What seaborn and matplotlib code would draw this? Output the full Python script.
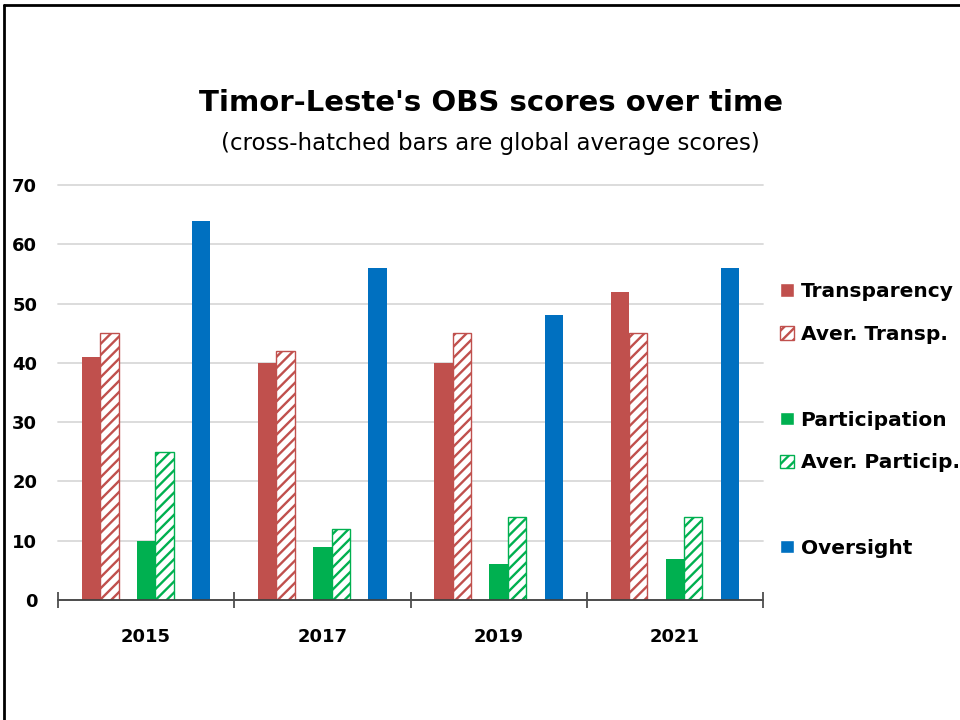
import pandas as pd
import numpy as np
import matplotlib
matplotlib.use("Agg")
import matplotlib.pyplot as plt
import seaborn as sns
from matplotlib.patches import Patch
from matplotlib.lines import Line2D

# Data
years = ["2015", "2017", "2019", "2021"]
transparency = [41, 40, 40, 52]
aver_transp = [45, 42, 45, 45]
participation = [10, 9, 6, 7]
aver_particip = [25, 12, 14, 14]
oversight = [64, 56, 48, 56]

series_names = ["Transparency", "Aver. Transp.", " ", "Participation",
                "Aver. Particip.", "  ", "Oversight"]
series_values = [transparency, aver_transp, None, participation,
                 aver_particip, None, oversight]

red = "#C0504D"
green = "#00B050"
blue = "#0070C0"
palette = {"Transparency": red, "Aver. Transp.": red, " ": "white",
           "Participation": green, "Aver. Particip.": green, "  ": "white",
           "Oversight": blue}
hatched = {"Aver. Transp.", "Aver. Particip."}

# Long table for seaborn (blank series keep the gaps between pairs)
rows = []
for name, vals in zip(series_names, series_values):
    if vals is None:
        continue
    for y, v in zip(years, vals):
        rows.append({"Year": y, "Series": name, "Score": v})
df = pd.DataFrame(rows)

sns.set_theme(style="white")
plt.rcParams["font.family"] = ["DejaVu Sans"]
plt.rcParams["text.color"] = "black"
plt.rcParams["xtick.color"] = "black"
plt.rcParams["ytick.color"] = "black"
plt.rcParams["hatch.linewidth"] = 1.7

fig = plt.figure(figsize=(9.6, 7.2), dpi=100)
ax = fig.add_axes([58 / 960, 120 / 720, 705 / 960, 415 / 720])

bar_width = 0.73
sns.barplot(data=df, x="Year", y="Score", hue="Series", order=years,
            hue_order=series_names, palette=palette, width=bar_width,
            saturation=1, legend=False, ax=ax, zorder=3)

# Find each bar's series from its slot inside the group, then style it
slot = bar_width / len(series_names)
for bar in ax.patches:
    cx = bar.get_x() + bar.get_width() / 2
    idx = int(round((cx - round(cx) + bar_width / 2) / slot - 0.5))
    name = series_names[idx]
    c = palette[name]
    if name in hatched:
        bar.set_facecolor("white")
        bar.set_edgecolor(c)
        bar.set_hatch("///")
        bar.set_linewidth(1.0)
    else:
        bar.set_facecolor(c)
        bar.set_linewidth(0)

ax.set_xlim(-0.5, 3.5)
ax.set_ylim(0, 70)
ax.set_yticks(np.arange(0, 71, 10))
ax.yaxis.grid(True, color="#D9D9D9", linewidth=1.3, zorder=0)
for gl in ax.get_ygridlines():
    gl.set_clip_on(False)
ax.set_axisbelow(True)
ax.set_xlabel("")
ax.set_ylabel("")

for side in ["left", "right", "top"]:
    ax.spines[side].set_visible(False)
ax.spines["bottom"].set_color("#404040")
ax.spines["bottom"].set_linewidth(1.3)
ax.spines["bottom"].set_zorder(4)

ax.set_xticks(np.arange(len(years)))
ax.set_xticklabels(years, fontsize=13, fontweight="bold")
ax.tick_params(axis="x", which="major", length=0, pad=20)
ax.set_xticks(np.arange(-0.5, len(years), 1.0), minor=True)
ax.tick_params(axis="x", which="minor", direction="inout", length=12,
               width=1.2, color="#404040", bottom=True)
ax.tick_params(axis="y", length=0, labelsize=13, pad=15)
for t in ax.get_yticklabels():
    t.set_fontweight("bold")

# Titles
fig.text(0.511, 0.857, "Timor-Leste's OBS scores over time", ha="center",
         va="center", fontsize=21, fontweight="bold")
fig.text(0.511, 0.801, "(cross-hatched bars are global average scores)",
         ha="center", va="center", fontsize=16.5)

# Legend with blank rows between groups
handles = []
for name in series_names:
    if name.strip() == "":
        handles.append(Patch(facecolor="none", edgecolor="none", label=""))
    elif name in hatched:
        handles.append(Patch(facecolor="white", edgecolor=palette[name],
                             hatch="///", label=name))
    else:
        handles.append(Patch(facecolor=palette[name], label=name))
fig.legend(handles=handles, loc="upper left", bbox_to_anchor=(0.813, 0.608),
           frameon=False, borderaxespad=0, borderpad=0, handlelength=0.65,
           handleheight=0.65, handletextpad=0.35, labelspacing=1.18,
           prop={"size": 14.5, "weight": "bold"})

# Outer frame lines (top and left)
fig.add_artist(Line2D([4 / 960, 4 / 960], [0, 715 / 720], color="black",
                      linewidth=2, transform=fig.transFigure))
fig.add_artist(Line2D([4 / 960, 1], [715 / 720, 715 / 720], color="black",
                      linewidth=2, transform=fig.transFigure))

fig.savefig("out.png", dpi=100)
